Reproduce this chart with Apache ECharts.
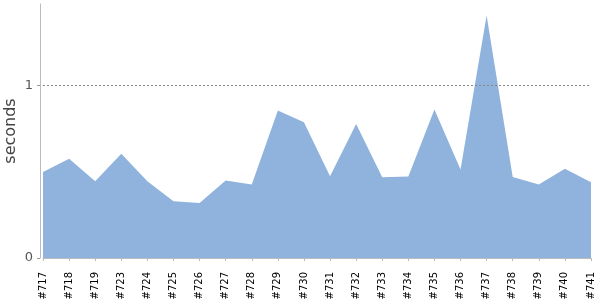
<!DOCTYPE html>
<html>
<head>
<meta charset="utf-8">
<script src="https://cdn.jsdelivr.net/npm/echarts@6/dist/echarts.min.js"></script>
<style>html,body{margin:0;padding:0;background:#fff}#c{width:600px;height:300px}</style>
</head>
<body>
<div id="c"></div>
<script>
var categories = ['#717','#718','#719','#723','#724','#725','#726','#727','#728','#729','#730','#731','#732','#733','#734','#735','#736','#737','#738','#739','#740','#741'];
var seconds = [0.498,0.574,0.444,0.604,0.444,0.328,0.319,0.448,0.425,0.853,0.786,0.473,0.776,0.467,0.471,0.859,0.512,1.404,0.469,0.425,0.517,0.438];
var yTicks = [0, 1];
var yMax = 1.47;

var chart = echarts.init(document.getElementById('c'), null, {renderer: 'canvas'});
chart.setOption({
  animation: false,
  grid: {left: 43, right: 9, top: 4, bottom: 42, containLabel: false, outerBoundsMode: 'none'},
  xAxis: {
    type: 'category',
    data: categories,
    boundaryGap: false,
    offset: 5,
    axisLine: {lineStyle: {color: '#bbbbbb', width: 1}},
    axisTick: {alignWithLabel: true, length: 3, lineStyle: {color: '#bbbbbb'}},
    axisLabel: {rotate: 90, interval: 0, color: '#000', fontSize: 10, fontFamily: 'DejaVu Sans', margin: 9}
  },
  yAxis: {
    type: 'value',
    min: 0,
    max: yMax,
    interval: 1,
    offset: 3,
    name: 'seconds',
    nameLocation: 'middle',
    nameGap: 21,
    nameMoveOverlap: false,
    nameTextStyle: {fontSize: 16, color: '#444', fontFamily: 'DejaVu Sans'},
    axisLine: {show: true, lineStyle: {color: '#bbbbbb', width: 1}},
    axisTick: {show: true, length: 3, lineStyle: {color: '#999'}},
    splitLine: {show: false},
    axisLabel: {
      color: '#555', fontSize: 13, fontFamily: 'DejaVu Sans', margin: 7,
      showMaxLabel: false,
      formatter: function (v) { return yTicks.indexOf(v) >= 0 ? String(v) : ''; }
    }
  },
  series: [{
    type: 'line',
    data: seconds,
    symbol: 'none',
    lineStyle: {width: 0, color: '#8fb3dc'},
    areaStyle: {color: '#8fb3dc', opacity: 1},
    markLine: {
      silent: true,
      symbol: 'none',
      label: {show: false},
      lineStyle: {type: [2, 2], color: '#888', width: 1},
      data: [{yAxis: 1}]
    }
  }]
});
</script>
</body>
</html>
